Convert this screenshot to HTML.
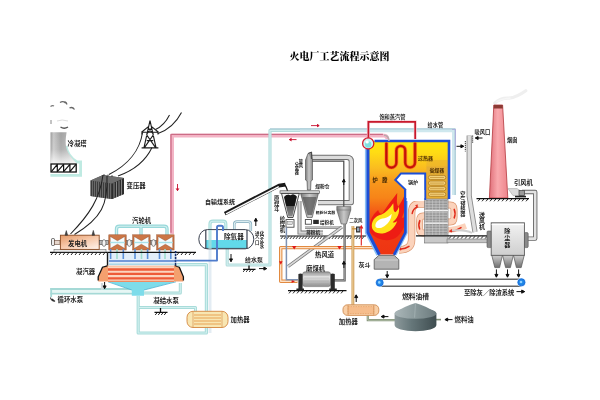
<!DOCTYPE html>
<html lang="zh-CN">
<head>
<meta charset="utf-8">
<title>火电厂工艺流程示意图</title>
<style>
html,body{margin:0;padding:0;background:#fff;}
body{width:600px;height:400px;overflow:hidden;}
svg{display:block;}
.t{font-family:"Liberation Sans","Noto Sans CJK SC",sans-serif;font-size:6.4px;fill:#1c1c1c;font-weight:700;}
.s{font-family:"Liberation Sans","Noto Sans CJK SC",sans-serif;font-size:5px;fill:#222;font-weight:700;}
.v{writing-mode:vertical-rl;text-orientation:upright;}
.title{font-family:"Liberation Serif","Noto Serif CJK SC",serif;font-weight:900;font-size:10px;fill:#000;}
.pk{fill:none;stroke:#f3b4c5;stroke-width:3.8;stroke-linejoin:round;}
.pki{fill:none;stroke:#cc6c86;stroke-width:1.3;stroke-linejoin:round;transform:translate(-1.1px,-1.2px);}
.cy{fill:none;stroke:#98d8da;stroke-width:3.4;stroke-linejoin:round;}
.cyi{fill:none;stroke:#d2f0f0;stroke-width:1.1;stroke-linejoin:round;}
.fw{fill:none;stroke:#d4e9f2;stroke-width:3.6;stroke-linejoin:round;}
.fwi{fill:none;stroke:#9cc4d2;stroke-width:1.1;stroke-linejoin:round;transform:translate(1.2px,-1.2px);}
.og{fill:none;stroke:#e28a40;stroke-width:3.4;stroke-linejoin:round;}
.ogi{fill:none;stroke:#fde0c4;stroke-width:1.4;stroke-linejoin:round;}
.gy{fill:none;stroke:#7d7d7d;stroke-width:3.6;stroke-linejoin:round;}
.gyi{fill:none;stroke:#e4e4e4;stroke-width:1.8;stroke-linejoin:round;}
.bl{fill:none;stroke:#4f7ccc;stroke-width:1.9;stroke-linejoin:round;}
.ln{fill:none;stroke:#222;stroke-width:1.05;}
.gr{fill:none;stroke:#111;stroke-width:1.2;}
.ht{fill:none;stroke:#111;stroke-width:0.9;}
.ar{fill:#111;stroke:#111;stroke-width:1;stroke-linejoin:miter;}
.arr{fill:#c8102e;stroke:#c8102e;stroke-width:0.9;}
</style>
</head>
<body>
<svg width="600" height="400" viewBox="0 0 600 400">
<defs>
<filter id="soft" x="0" y="0" width="600" height="400" filterUnits="userSpaceOnUse" color-interpolation-filters="sRGB"><feGaussianBlur stdDeviation="0.45"/></filter>
<linearGradient id="gTower" x1="0" y1="0" x2="1" y2="0">
<stop offset="0" stop-color="#9a9a9a"/><stop offset="0.12" stop-color="#c6c6c6"/><stop offset="0.4" stop-color="#a2a2a2"/><stop offset="0.7" stop-color="#b4b4b4"/><stop offset="1" stop-color="#dcdcdc"/>
</linearGradient>
<linearGradient id="gTowerV" x1="0" y1="0" x2="0" y2="1"><stop offset="0" stop-color="#fff" stop-opacity="0"/><stop offset="0.55" stop-color="#fff" stop-opacity="0.15"/><stop offset="1" stop-color="#fff" stop-opacity="0.8"/></linearGradient>
<linearGradient id="gGen" x1="0" y1="0" x2="0.8" y2="1">
<stop offset="0" stop-color="#e59a68"/><stop offset="0.5" stop-color="#f6c6a6"/><stop offset="1" stop-color="#fdeee4"/>
</linearGradient>
<linearGradient id="gBoiler" x1="0" y1="0" x2="0" y2="1">
<stop offset="0" stop-color="#ffe808"/><stop offset="0.1" stop-color="#ffdc14"/><stop offset="0.24" stop-color="#fabc20"/><stop offset="0.36" stop-color="#f8981c"/><stop offset="0.5" stop-color="#f78418"/><stop offset="0.62" stop-color="#f45c16"/><stop offset="0.76" stop-color="#f03c14"/><stop offset="1" stop-color="#ee3412"/>
</linearGradient>
<linearGradient id="gTank" x1="0" y1="0" x2="1" y2="0">
<stop offset="0" stop-color="#8d9a9c"/><stop offset="0.4" stop-color="#66777a"/><stop offset="1" stop-color="#3f4d50"/>
</linearGradient>
<linearGradient id="gTankTop" x1="0" y1="0" x2="1" y2="0">
<stop offset="0" stop-color="#aab6b8"/><stop offset="0.5" stop-color="#8a999b"/><stop offset="1" stop-color="#6c7b7e"/>
</linearGradient>
<linearGradient id="gMill" x1="0" y1="0" x2="0" y2="1">
<stop offset="0" stop-color="#8c8c8c"/><stop offset="0.35" stop-color="#e8e8e8"/><stop offset="1" stop-color="#8f8f8f"/>
</linearGradient>
<linearGradient id="gChim" x1="0" y1="0" x2="1" y2="0">
<stop offset="0" stop-color="#e0707a"/><stop offset="0.45" stop-color="#f9a9ad"/><stop offset="1" stop-color="#ee858c"/>
</linearGradient>
<linearGradient id="gDust" x1="0" y1="0" x2="0" y2="1">
<stop offset="0" stop-color="#f2f2f2"/><stop offset="1" stop-color="#cfcfcf"/>
</linearGradient>
<linearGradient id="gHop" x1="0" y1="0" x2="0" y2="1">
<stop offset="0" stop-color="#d0d0d0"/><stop offset="1" stop-color="#6e6e6e"/>
</linearGradient>
<linearGradient id="gCone" x1="0" y1="0" x2="1" y2="0">
<stop offset="0" stop-color="#7a7a7a"/><stop offset="0.5" stop-color="#c8c8c8"/><stop offset="1" stop-color="#8a8a8a"/>
</linearGradient>
<linearGradient id="gCoal" x1="0" y1="0" x2="0" y2="1">
<stop offset="0" stop-color="#2a2a2a"/><stop offset="1" stop-color="#8a8a8a"/>
</linearGradient>
<pattern id="pStripe" width="2" height="4" patternUnits="userSpaceOnUse">
<rect width="2" height="4" fill="#3c3c3c"/><rect width="1" height="4" fill="#6a6a6a"/>
</pattern>
<pattern id="pFine" width="4" height="1.6" patternUnits="userSpaceOnUse">
<rect width="4" height="1.6" fill="#b9b9b9"/><rect width="4" height="0.7" fill="#8a8a8a"/>
</pattern>
</defs>
<rect width="600" height="400" fill="#fff"/>
<g filter="url(#soft)">
<rect width="600" height="400" fill="#fff"/>
<text class="title" x="289.5" y="60.2">火电厂工艺流程示意图</text>
<!-- ===== cooling tower ===== -->
<g>
<path d="M66,146 C67,153 70,158 77,162 H80.6 V175.4 H50.4" fill="none" stroke="#bfeae2" stroke-width="2.8"/>
<path d="M50.5,132.2 H66.6 C64.4,146 65.6,152 76.4,163.2 H50.5 Z" fill="url(#gTower)"/>
<path d="M50.5,132.2 H66.6 C64.4,146 65.6,152 76.4,163.2 H50.5 Z" fill="url(#gTowerV)"/>
<rect x="51" y="164" width="25.2" height="8" fill="#fff" stroke="#111" stroke-width="1.3"/>
<path d="M51.4,171.6 L57.3,164.4 M57.3,171.6 L63.6,164.4 M63.6,171.6 L69.9,164.4 M69.9,171.6 L76,164.4 M57.3,164V172 M63.6,164V172 M69.9,164V172" stroke="#111" stroke-width="1.2" fill="none"/>
<path d="M60,102.5 q3,-2 5.5,0.5 M63,102 q3,-1 4,2.5" stroke="#666" stroke-width="1.2" fill="none"/>
<path d="M69.5,108 q3,-1.5 5,1.5" stroke="#666" stroke-width="1.3" fill="none"/>
<path d="M50.5,106.5 q2,-1.5 3.5,-0.5" stroke="#777" stroke-width="1.2" fill="none"/>
<path d="M51,120 v4" stroke="#888" stroke-width="1" fill="none"/>
<path d="M60.5,127 q3.5,2.5 7.5,0" stroke="#555" stroke-width="1.3" fill="none"/>
<path d="M57,121 q5,-2 11,0" stroke="#ddd" stroke-width="1" fill="none"/>
<text class="t" x="67.5" y="145.6">冷凝塔</text>
</g>
<!-- ===== power lines / pylon / transformer ===== -->
<g>
<path class="ln" d="M169.5,115 C166,122 161,127 155.5,129.5"/>
<path class="ln" d="M181.5,112.5 C176,123 168,130 158,133.5"/>
<path class="ln" d="M142.5,132.5 C140,150 128,165 109,174.5"/>
<path class="ln" d="M152,147.5 C146,160 135,170 118,176"/>
<!-- pylon -->
<path d="M150,120.5 L144,147.6 M150,120.5 L156,147.6 M141.5,132.2 H158.5 M141.6,147.9 H158.4 M146.4,134.5 L155.4,147.4 M153.6,134.5 L144.6,147.4 M147.8,127.5 L153.4,134 M152.2,127.5 L146.6,134 M146.8,140.6 H153.2 M141.5,132.2 L148.4,126.6 M158.5,132.2 L151.6,126.6 M142,132 v2.4 M158,132 v2.4" stroke="#1c1c1c" stroke-width="1.15" fill="none"/>
<!-- transformer -->
<path d="M90.5,180.5 L103,175 L124,178 L124,194 L112,199 L90.5,196 Z" fill="#4a4a4a"/>
<path d="M90.5,180.5 L112,183.5 L112,199 L90.5,196 Z" fill="url(#pStripe)"/>
<path d="M112,183.5 L124,178 L124,194 L112,199 Z" fill="#2d2d2d"/>
<path d="M114,182.8 V198 M116.5,181.6 V197 M119,180.5 V196 M121.5,179.3 V195" stroke="#999" stroke-width="0.8"/>
<path d="M90.5,180.5 L103,175 L124,178 L112,183.5 Z" fill="#6d6d6d"/>
<path d="M104,176 v-2 M108,176.5 v-2 M112,177 v-2" stroke="#333" stroke-width="0.8"/>
<text class="t" x="126.5" y="188.3">变压器</text>
<path class="ln" d="M103,175 C100,198 90,214 70.5,234"/>
<path class="ln" d="M107,176 C108,204 102,218 74.5,234.5"/>
</g>
<!-- ===== generator & turbines ===== -->
<g>
<!-- ground -->
<path class="gr" d="M50,252.3 H108 M175,252.3 H196"/>
<path class="ht" d="M53,252.5 l-2,2.5 M57,252.5 l-2,2.5 M61,252.5 l-2,2.5 M65,252.5 l-2,2.5 M69,252.5 l-2,2.5 M73,252.5 l-2,2.5 M77,252.5 l-2,2.5 M81,252.5 l-2,2.5 M85,252.5 l-2,2.5 M89,252.5 l-2,2.5 M93,252.5 l-2,2.5 M97,252.5 l-2,2.5 M101,252.5 l-2,2.5 M105,252.5 l-2,2.5 M179,252.5 l-2,2.5 M183,252.5 l-2,2.5 M187,252.5 l-2,2.5 M191,252.5 l-2,2.5 M195,252.5 l-2,2.5"/>
<rect x="54" y="249.6" width="52" height="2.4" fill="#e8e8e8" stroke="#555" stroke-width="0.5"/>
<!-- shaft left -->
<rect x="51.5" y="238.5" width="3" height="7" rx="1" fill="#eee" stroke="#333" stroke-width="0.7"/>
<rect x="54.5" y="240.3" width="5.5" height="4" fill="#e6d6cc" stroke="#6a4a3a" stroke-width="0.6"/>
<rect x="60.4" y="235.2" width="38.8" height="14.2" fill="url(#gGen)" stroke="#8a4a22" stroke-width="0.9"/>
<path d="M65,235.2 l1.3,-4.6 l1.3,4.6 Z M92,235.2 l1.3,-4.8 l1.3,4.8 Z" fill="#444" stroke="#333" stroke-width="0.6"/>
<text class="t" x="68" y="246">发电机</text>
<!-- couplings -->
<g fill="#f4f4f4" stroke="#444" stroke-width="0.6">
<rect x="99.5" y="240.5" width="9" height="4" fill="#b9b9b9"/>
<ellipse cx="104" cy="243" rx="2" ry="3.4"/>
<rect x="126" y="240.5" width="6.5" height="4" fill="#b9b9b9"/>
<ellipse cx="129.3" cy="243" rx="2" ry="3.4"/>
<rect x="150.5" y="240.5" width="6" height="4" fill="#b9b9b9"/>
<ellipse cx="153.5" cy="243" rx="2" ry="3.4"/>
</g>
</g>
<!-- ===== steam pipe (pink) ===== -->
<g>
<path class="pk" d="M172.1,234 V135.6 H384 Q387,135.6 387.5,139"/>
<path class="pki" d="M172.1,234 V135.6 H384"/>
<path class="arr" d="M177.5,184 v6.5 m-1.3,-2 l1.3,2.2 l1.3,-2.2"/>
<path class="arr" d="M296.5,139.6 h-7 m2,-1.3 l-2.2,1.3 l2.2,1.3"/>
</g>
<!-- ===== turbines ===== -->
<g>
<text class="t" x="132" y="222.6">汽轮机</text>
<path class="cy" d="M116.5,235 V229 Q116.5,226.3 119.5,226.3 H164 Q167,226.3 167,229 V235 M141,226.3 V235"/>
<path class="cyi" d="M116.5,235 V229 Q116.5,226.3 119.5,226.3 H164 Q167,226.3 167,229 V235 M141,226.3 V235"/>
<g id="turb">
<rect x="108.8" y="234.8" width="17.4" height="15.2" fill="#cc7646" stroke="#9a5430" stroke-width="0.5"/>
<path d="M110.2,236.4 L117.5,240.8 L124.8,236.4 V248.6 L117.5,244.2 L110.2,248.6 Z" fill="#f6fcfd" stroke="#8a4a28" stroke-width="0.4"/>
<path d="M110.2,242.5 H124.8" stroke="#a8e2ea" stroke-width="1.4"/>
</g>
<use href="#turb" x="23.9"/>
<use href="#turb" x="47.9"/>
<!-- exhaust box -->
<rect x="107.5" y="252.6" width="68.5" height="13" fill="#e3eef9"/>
<path d="M109,261 H176" stroke="#4f7ccc" stroke-width="1.6" fill="none"/>
<path d="M109,264.3 H176" stroke="#a9d7e6" stroke-width="1.6" fill="none"/>
<g stroke="#5b8fd8" stroke-width="1.6" fill="none">
<path d="M110.6,249 V259 M123.3,249 V259 M135,249 V259 M147.6,249 V259 M159.5,249 V259 M170.8,249 V259"/>
</g>
<g stroke="#9fdccf" stroke-width="1.6" fill="none">
<path d="M117,249 V259 M141.5,249 V259 M165,249 V259"/>
</g>
<path d="M107.5,252.6 V265.8" stroke="#1a1a1a" stroke-width="1.4" fill="none"/>
<path d="M175.6,251 V265.5" stroke="#14306e" stroke-width="1.6" stroke-dasharray="2.2 0.8" fill="none"/>
<path class="gr" d="M108,252.3 H175" stroke-width="0.8"/>
</g>
<!-- ===== condenser ===== -->
<g>
<!-- circulating water pipes -->
<path d="M50.3,289 H134 M50.3,293.6 H134" stroke="#a5d9d6" stroke-width="2" fill="none"/>
<path d="M50.3,291.3 H134" stroke="#e6f6f4" stroke-width="2.6" fill="none"/>
<path d="M51.2,288 V297" stroke="#a5d9d6" stroke-width="1.8" fill="none"/>
<path d="M143,293 H180.3 V283" class="cy" style="stroke-width:3;stroke:#a5d9d6"/>
<path d="M143,293 H180.3 V283" class="cyi"/>
<path d="M102,283 V290" stroke="#cfd8dc" stroke-width="2.2" fill="none"/>
<!-- hotwell funnel -->
<path d="M108,281.5 H176 L144,290 V295.8 H131.8 V290 Z" fill="#7ddcea"/>
<path d="M108,281.8 L131.8,290 M176,281.8 L144,290" stroke="#4fb3d0" stroke-width="0.8" fill="none"/>
<!-- body -->
<path d="M106.5,265.8 H175.5 L180,267.5 L183.3,277 V281.6 H98.2 V277 L102.5,267.5 Z" fill="#f4a06e"/>
<rect x="108" y="266.3" width="66" height="15.3" fill="#fbd4bd"/>
<g stroke="#ee5a36" stroke-width="2.3" fill="none">
<path d="M108,269.5 H174 M108,273.9 H174 M108,278.3 H174"/>
</g>
<path d="M108,281.3 H174" stroke="#f07a4a" stroke-width="1" fill="none"/>
<path d="M107.3,265.8 L102.5,267.2 L98.2,276.8 V280.5" stroke="#111" stroke-width="1.3" fill="none"/>
<path d="M174.7,265.5 L179.3,267.2 L183.4,276.8 V280.5" stroke="#111" stroke-width="1.3" fill="none"/>
<text class="t" x="76" y="274.3">凝汽器</text>
<path class="ar" d="M104.6,282 v6.3 m-1.5,-2.4 l1.5,2.8 l1.5,-2.8 z"/>
<!-- pump icon + label -->
<path d="M50.5,297.5 q0.5,3.5 4.5,3.8 M52,299 l3,2.5" stroke="#333" stroke-width="1.1" fill="none"/>
<text class="t" x="57.5" y="302.3">循环水泵</text>
<!-- condensate pipes -->
<path d="M210,249 V333" fill="none" stroke="#e3ecf3" stroke-width="3"/>
<path class="cy" d="M138.2,296 V333 H206.4 V264.6 H177" style="stroke:#a9dcda;stroke-width:3.2"/>
<path class="cyi" d="M138.2,296 V333 H206.4 V264.6 H177"/>
<path class="cy" d="M139,307.5 H195.5 V312" style="stroke:#a9dcda;stroke-width:3"/>
<path class="cyi" d="M139,307.5 H195.5 V312"/>
<text class="t" x="153.3" y="303.2">凝结水泵</text>
<path d="M160.5,308 v4 M154.5,312.4 H167.5" stroke="#111" stroke-width="1.3" fill="none"/>
<path class="ht" d="M157,312.8 l-1.8,2.2 M160,312.8 l-1.8,2.2 M163,312.8 l-1.8,2.2 M166,312.8 l-1.8,2.2"/>
<!-- heater (left) -->
<rect x="187" y="311.3" width="41" height="16.2" rx="6" fill="#f8e6b2" stroke="#d4873f" stroke-width="0.9"/>
<path d="M193,311.5 V327.3 M222,311.5 V327.3" stroke="#d4873f" stroke-width="0.6" fill="none"/>
<g stroke="#e8a255" stroke-width="1.1" fill="none">
<path d="M194,315 H221 M194,318 H221 M194,321 H221 M194,324 H221"/>
</g>
<text class="t" x="230.5" y="321.6">加热器</text>
</g>
<!-- ===== feed water pipe (light blue/cyan) ===== -->
<g>
<path class="cy" d="M227.2,249 V265 H270 V130.4 H330" style="stroke:#b4dcdc;stroke-width:3.2"/>
<path class="cyi" d="M227.2,249 V265 H270 V130.4 H330"/>
<path d="M300,130.4 H453.8 V195" fill="none" stroke="#cfe8ee" stroke-width="3.6"/>
<path d="M270,128.9 H455 M455.2,128.6 V195" fill="none" stroke="#9fc3cf" stroke-width="1"/>
<path d="M452,129.5 H455.4 V150" fill="none" stroke="#aeb0dc" stroke-width="1.1"/>
<path class="arr" d="M311,125.6 h8 m-2,-1.3 l2.2,1.3 l-2.2,1.3"/>
</g>
<!-- ===== deaerator ===== -->
<g>
<path class="cy" d="M210,231 V224 Q210,221.2 213,221.2 H223 Q225.8,221.2 225.8,224 V231" style="stroke:#a9dcda;stroke-width:3.2"/>
<path class="cyi" d="M210,231 V224 Q210,221.2 213,221.2 H223 Q225.8,221.2 225.8,224 V231"/>
<path d="M234.3,231 V224 Q234.3,221.6 237,221.6 H248 Q250.8,221.6 250.8,224 V231" fill="none" stroke="#8fb4c4" stroke-width="2.6"/>
<path d="M234.3,231 V224 Q234.3,221.6 237,221.6 H248 Q250.8,221.6 250.8,224 V231" fill="none" stroke="#e4f3f6" stroke-width="1"/>
<rect x="198.8" y="229.6" width="55" height="19.2" rx="8.5" ry="9.6" fill="#fff" stroke="#3b4250" stroke-width="1"/>
<path d="M205.8,240 H247 V248.2 H205.8 Z" fill="#62d9ea"/>
<path d="M205.8,230 V248.5 M247,230 V248.5" stroke="#3b4250" stroke-width="1.2" fill="none"/>
<path d="M205.8,248.4 H247" stroke="#3b4250" stroke-width="0.8"/>
<path class="cy" d="M210,230 V249" style="stroke:#a9dcda;stroke-width:3.2;opacity:.75"/>
<path class="bl" d="M175.5,260.6 H217 V227.5 Q217,225.8 218.6,225.8 H221.4 Q223,225.8 223,227.5 V231"/>
<text class="t" x="224" y="238.6" style="font-size:6.6px">除氧器</text>
<path class="ar" d="M255.8,226 v-7.5 m-1.5,2.6 l1.5,-2.8 l1.5,2.8 z"/>
<text class="s" text-anchor="middle" style="font-size:4.4px"><tspan x="262.0" y="234.9">化</tspan><tspan x="262.0" y="239.3">学</tspan><tspan x="262.0" y="243.7">补</tspan><tspan x="262.0" y="248.1">水</tspan></text>
<text class="s" text-anchor="middle" style="font-size:4.4px"><tspan x="257.3" y="234.9">进</tspan><tspan x="257.3" y="239.3">入</tspan><tspan x="257.3" y="243.7">口</tspan></text>
<path class="ar" d="M231,254 v7.5 m-1.5,-2.6 l1.5,2.8 l1.5,-2.8 z"/>
<text class="t" x="245" y="261.8" style="font-size:6px">给水泵</text>
<path d="M249,265.5 v3.5 M243,269.3 H255.5" stroke="#111" stroke-width="1.3" fill="none"/>
<path class="ht" d="M245,269.5 l-1.8,2.4 M248,269.5 l-1.8,2.4 M251,269.5 l-1.8,2.4 M254,269.5 l-1.8,2.4"/>
<path class="ar" d="M259,268.6 h7.5 m-2.6,-1.5 l2.8,1.5 l-2.8,1.5 z"/>
</g>
<!-- ===== coal conveyor ===== -->
<g>
<text class="t" x="205" y="203.8" style="font-size:6px">自输煤系统</text>
<path d="M224.8,213.6 L279,185.6 L285.4,184.6" stroke="#1a1a1a" stroke-width="3.8" fill="none" stroke-linejoin="round"/>
<path d="M226,213.9 L278.8,186.6" stroke="#fafafa" stroke-width="1.5" fill="none"/>
<path d="M284.6,184.6 q2.6,3 3.6,10" stroke="#111" stroke-width="1.3" fill="none"/>
</g>
<!-- ===== coal bunkers / separators ===== -->
<g>
<!-- thick duct loop -->
<path d="M311,157.4 H347 Q351.3,157.4 351.3,161.5 V202.6 H318" fill="none" stroke="#6f6f6f" stroke-width="5.2" stroke-linejoin="round"/>
<path d="M311,157.4 H347 Q351.3,157.4 351.3,161.5 V202.6 H318" fill="none" stroke="#dcdcdc" stroke-width="3.4" stroke-linejoin="round"/>
<path d="M312,161.2 H343.8 V207" fill="none" stroke="#4a4a4a" stroke-width="1.2"/>
<path class="ar" d="M343.8,185 v-5.5 m-1.4,2.4 l1.4,-2.7 l1.4,2.7 z"/>
<!-- coarse separator cyclone -->
<path d="M305.5,160 L308,153.5 L311.6,152 L312.5,160 V180 L311,181 L310.6,190 H307.4 L307,181 L305.5,180 Z" fill="url(#gCone)" stroke="#444" stroke-width="0.6"/>
<path d="M308.2,153.5 L311.4,152.2 V159" stroke="#333" stroke-width="0.8" fill="#999"/>
<text class="s" text-anchor="middle" style="font-size:4.2px"><tspan x="300.9" y="163.2">旋</tspan><tspan x="300.9" y="167.2">风</tspan></text>
<text class="s" text-anchor="middle" style="font-size:4.2px"><tspan x="296.8" y="165.6">分</tspan><tspan x="296.8" y="169.6">离</tspan><tspan x="296.8" y="173.6">器</tspan></text>
<text class="s" x="315.2" y="188.2" style="font-size:4.8px">煤粉仓</text>
<!-- bunker rim -->
<rect x="280" y="190.8" width="39.5" height="2.6" fill="#d8d8d8" stroke="#444" stroke-width="0.6"/>
<path d="M281.5,193.4 H299.3 L293,217.5 H287.8 Z" fill="#f2f2f2" stroke="#222" stroke-width="0.8"/>
<path d="M284,197 q3,-3.6 6.4,-1.6 q3.4,-2.4 6.4,1.2 L292.4,216.5 H288.4 Z" fill="url(#gCoal)"/>
<path d="M284.4,197 q3,-3.6 6.2,-1.6 q3.2,-2.4 6,1.4 L294.6,206 H286.2 Z" fill="#151515"/>
<path d="M300.6,193.4 H318.4 L312.2,217.5 H307 Z" fill="url(#gCone)" stroke="#444" stroke-width="0.6"/>
<path d="M302.5,197 H316.5 L312,215 H307.5 Z" fill="#5a5a5a" opacity="0.75"/>
<text class="s" text-anchor="middle" style="font-size:5.4px"><tspan x="276.6" y="200.4">原</tspan><tspan x="276.6" y="205.8">煤</tspan><tspan x="276.6" y="211.2">斗</tspan></text>
<text class="s" text-anchor="middle" style="font-size:5.4px"><tspan x="282.4" y="220.8">给</tspan><tspan x="282.4" y="226.2">煤</tspan><tspan x="282.4" y="231.6">机</tspan></text>
<!-- feeders -->
<rect x="286" y="219.6" width="8" height="7.6" fill="#fff" stroke="#333" stroke-width="0.8"/>
<rect x="287.8" y="221.5" width="4.4" height="3" fill="#ddd" stroke="#555" stroke-width="0.4"/>
<rect x="305.3" y="219.6" width="6.2" height="4.6" fill="#fff" stroke="#333" stroke-width="0.8"/>
<rect x="313.2" y="219.8" width="5.6" height="4.2" fill="#2a2a2a"/>
<text class="s" x="320" y="224.2" style="font-size:4.6px">给粉机</text>
<text class="s" x="315.8" y="214.2" style="font-size:3.9px">粗粉分离器</text>
<!-- gray ducts -->
<path d="M299.5,201 V232.6 H323" fill="none" stroke="#777" stroke-width="4"/>
<path d="M299.5,201 V232.6 H323" fill="none" stroke="#d5d5d5" stroke-width="2.2"/>
<path d="M305,227.8 H342" fill="none" stroke="#777" stroke-width="2.4"/>
<path d="M305,227.8 H342" fill="none" stroke="#ddd" stroke-width="1"/>
<text class="s" x="306.2" y="234.4" style="font-size:4.6px">排粉机</text>
<!-- fine separator -->
<path d="M336.8,206.4 H350.8 V210 L346.4,224 H341.2 L336.8,210 Z" fill="url(#gCone)" stroke="#555" stroke-width="0.6"/>
<path d="M336.8,210 H350.8" stroke="#666" stroke-width="0.5"/>
<text class="s" x="349.2" y="222.2" style="font-size:4.4px">二次风</text>
<!-- ground -->
<path class="gr" d="M280,236 H366"/>
<path class="ht" d="M283,236.3 l-2,2.6 M286,236.3 l-2,2.6 M289,236.3 l-2,2.6 M292,236.3 l-2,2.6 M295,236.3 l-2,2.6 M298,236.3 l-2,2.6 M301,236.3 l-2,2.6 M304,236.3 l-2,2.6 M307,236.3 l-2,2.6 M310,236.3 l-2,2.6 M313,236.3 l-2,2.6 M316,236.3 l-2,2.6 M319,236.3 l-2,2.6 M322,236.3 l-2,2.6 M325,236.3 l-2,2.6 M328,236.3 l-2,2.6 M331,236.3 l-2,2.6 M334,236.3 l-2,2.6 M337,236.3 l-2,2.6 M340,236.3 l-2,2.6 M343,236.3 l-2,2.6 M346,236.3 l-2,2.6 M349,236.3 l-2,2.6 M352,236.3 l-2,2.6 M355,236.3 l-2,2.6 M358,236.3 l-2,2.6 M361,236.3 l-2,2.6 M364,236.3 l-2,2.6" stroke-width="0.8"/>
<!-- diagonal duct -->
<path d="M342,227 L288,266.5" stroke="#777" stroke-width="3.2" fill="none"/>
<path d="M342,227 L288,266.5" stroke="#d8d8d8" stroke-width="1.6" fill="none"/>
<!-- hot air duct (orange) -->
<path class="og" d="M377,247.6 H280.7 V281.3 H297.5"/>
<path class="ogi" d="M377,247.6 H280.7 V281.3 H297.5"/>
<path d="M292,246 h4.4 l-2.2,3.4 Z M337.3,246 h4.4 l-2.2,3.4 Z M279,261.3 h3.6 l-1.8,3.4 Z M291.6,279.5 l3.4,1.8 l-3.4,1.8 Z" fill="#e01818"/>
<!-- blue feed pipe to mill -->
<path d="M286.4,227.4 V279.8 H298" fill="none" stroke="#7f93b4" stroke-width="1.5"/>
<!-- pipe from fine separator to mill -->
<path d="M344.6,224 V280.4 H334" fill="none" stroke="#555" stroke-width="2.2"/>
<path d="M344.6,224 V280.4 H334" fill="none" stroke="#aaa" stroke-width="0.8"/>
<path class="ar" d="M343.9,268 v-6.5 m-1.5,2.6 l1.5,-2.8 l1.5,2.8 z"/>
<text class="t" x="315" y="257.2" style="font-size:6.4px">热风道</text>
<text class="t" x="306" y="270.9" style="font-size:6.4px">磨煤机</text>
<!-- coal mill -->
<rect x="302.6" y="271.8" width="28" height="14.8" rx="2.5" fill="url(#gMill)" stroke="#777" stroke-width="0.6"/>
<path d="M304,275 H329 M304,278 H329 M304,281 H329 M304,284 H329" stroke="#9a9a9a" stroke-width="0.4"/>
<path d="M298.4,274 Q300.5,272.8 302.6,274 V288.4 H304 V290.4 H296.4 V288.4 H298.4 Z" fill="#2b2b2b"/>
<path d="M330.6,274 Q332.7,272.8 334.8,274 V288.4 H336.8 V290.4 H329.2 V288.4 H330.6 Z" fill="#2b2b2b"/>
<path class="gr" d="M288,290.7 H346.5"/>
<path class="ht" d="M291,291 l-2,2.4 M295,291 l-2,2.4 M299,291 l-2,2.4 M303,291 l-2,2.4 M307,291 l-2,2.4 M311,291 l-2,2.4 M315,291 l-2,2.4 M319,291 l-2,2.4 M323,291 l-2,2.4 M327,291 l-2,2.4 M331,291 l-2,2.4 M335,291 l-2,2.4 M339,291 l-2,2.4 M343,291 l-2,2.4"/>
<!-- tan oil pipe -->
<path d="M352.9,226 V306" fill="none" stroke="#c9954a" stroke-width="2.8"/>
<path d="M352.9,226 V306" fill="none" stroke="#f5dcae" stroke-width="1"/>
<path d="M352,228.8 H358" stroke="#c9954a" stroke-width="1.4" fill="none"/>
<rect x="356" y="226.5" width="4.4" height="6" fill="#333"/>
<rect x="357" y="227.6" width="2.4" height="3.6" fill="#9ab"/>
<path d="M361.3,245.5 V226 m-1.5,2.6 l1.5,-2.8 l1.5,2.8" stroke="#e02020" stroke-width="1.1" fill="none"/>
<path class="ar" d="M356.2,302 v-7 m-1.5,2.6 l1.5,-2.8 l1.5,2.8 z"/>
</g>
<!-- ===== boiler ===== -->
<g>
<!-- salmon ducts behind -->
<path d="M424.5,204 H419 Q411.6,204 411.6,213 V240 Q411.6,249.6 399,250" fill="none" stroke="#dc966e" stroke-width="7.4"/>
<path d="M424.5,204 H419 Q411.6,204 411.6,213 V240 Q411.6,249.6 399,250" fill="none" stroke="#fbd3bc" stroke-width="6"/>
<path d="M425,216 H423 Q419.6,216 419.6,221 V228 Q419.6,233 423,233 H425" fill="none" stroke="#dc966e" stroke-width="7"/>
<path d="M425,216 H423 Q419.6,216 419.6,221 V228 Q419.6,233 423,233 H425" fill="none" stroke="#fbd3bc" stroke-width="5.6"/>
<path d="M447,205 H450 Q454,205 454,209.5 V217.5 Q454,222 450,222 H447" fill="none" stroke="#dc966e" stroke-width="7"/>
<path d="M447,205 H450 Q454,205 454,209.5 V217.5 Q454,222 450,222 H447" fill="none" stroke="#fbd3bc" stroke-width="5.6"/>
<path d="M447.5,230 Q456,229.6 466,226" fill="none" stroke="#fbd3bc" stroke-width="6"/>
<g fill="none" stroke="#e02a1a" stroke-width="1.5" stroke-linecap="round">
<path d="M412.2,213.5 q0.8,-5 5.4,-6.6"/>
<path d="M419.6,229 q-1.6,-4 0.2,-8.4"/>
<path d="M409,246.4 q-4,2.8 -8.5,2.6"/>
<path d="M454.2,209.4 q1.8,4 0,8.5"/>
<path d="M451,231.4 q5,-0.3 10,-3.8"/>
</g>
<path d="M415.6,205.4 l2,-0.6 l-0.8,2.2 Z M400.8,247.6 l-2.2,1.4 l2.4,1.2 Z M451.6,229.4 l-2.4,1.8 l2.8,0.8 Z" fill="#e02a1a" stroke="#e02a1a" stroke-width="0.6"/>
<!-- main shell fill -->
<path d="M367.5,141 H449 V198.5 H425.2 V173.4 H401 L395.3,180 L405.4,189.6 V232.5 L394.4,254.6 H378.6 L367.5,232.5 Z" fill="url(#gBoiler)"/>
<!-- lower furnace red -->

<!-- flames -->
<g transform="translate(386,220) scale(1.12) translate(-386,-223)">
<path d="M372,234 C370,226 373,219 379,214 C380,217 381,218 383,217 C386,212 390,207 396,199 C396,205 395,208 397,211 C399,208 401,205 402.5,201 C404,208 403,216 400,221 C402,221 403,220 404.5,218 C404.5,226 401,233 396,238 C390,243 378,242 372,234 Z" fill="#ee1c14"/>
<path d="M373.5,230 C372.5,224 376,219.5 382,218 C386,216.5 389,213 392.5,208 C393,212 392,215 394.5,216 C396,215 397,213 397.5,211 C398.5,217 396,222 392,225 C394,225.5 395,225 396,224 C394,230 389,234.5 383,235 C378,235.5 374.5,233.5 373.5,230 Z" fill="#ffe21a"/>
<path d="M376.5,228.5 C376.5,224.5 380,222 384.5,221.5 C387.5,221 389.5,219.5 391,217.5 C391,222 388.5,226 384.5,228.5 C381.5,230.5 377.5,231 376.5,228.5 Z" fill="#ffffff"/>
</g>
<!-- economizer -->
<rect x="426.4" y="166.4" width="21.8" height="32.4" fill="#e6ae34"/>
<path d="M426.4,160 H448.2 V166.6 H426.4 Z" fill="#e6ae34" opacity="0.5"/>
<g fill="none" stroke="#a8741c" stroke-width="0.7">
<rect x="428.4" y="175.4" width="17.4" height="4.2" rx="2.1" fill="#f2cf78"/>
<rect x="428.4" y="181" width="17.4" height="4.2" rx="2.1" fill="#f2cf78"/>
<rect x="428.4" y="186.6" width="17.4" height="4.2" rx="2.1" fill="#f2cf78"/>
<rect x="428.4" y="192.2" width="17.4" height="4.2" rx="2.1" fill="#f2cf78"/>
</g>
<g fill="none" stroke="#b98224" stroke-width="0.6">
<path d="M430,177.5 H444 M430,183.1 H444 M430,188.7 H444 M430,194.3 H444"/>
</g>
<!-- air preheater -->
<rect x="424.6" y="199" width="23.4" height="44" fill="#c9c9c9" stroke="#6a6a6a" stroke-width="0.6"/>
<rect x="425.6" y="200" width="21.4" height="9.8" fill="url(#pFine)"/>
<rect x="425.6" y="211.4" width="21.4" height="11" fill="url(#pFine)"/>
<rect x="425.6" y="224" width="21.4" height="11.4" fill="url(#pFine)"/>
<path d="M424.6,210.6 H448 M424.6,223.2 H448 M424.6,236 H448" stroke="#f4f4f4" stroke-width="1"/>
<g stroke="#dadada" stroke-width="0.4">
<path d="M429,200 V235 M432.5,200 V235 M436,200 V235 M439.5,200 V235 M443,200 V235"/>
</g>
<!-- blue walls -->
<path d="M374.5,141 H449 V199" fill="none" stroke="#1c4fd6" stroke-width="2.6" stroke-linejoin="miter"/>
<path d="M366.6,149 V232.8 L378,255" fill="none" stroke="#8cc0f4" stroke-width="3.4" stroke-linejoin="round"/>
<path d="M368,149 V232.5 L379.4,254.8" fill="none" stroke="#1c4fd6" stroke-width="3" stroke-linejoin="round"/>
<path d="M406.4,200 V232.8 L395.2,255" fill="none" stroke="#8cc0f4" stroke-width="2.6" stroke-linejoin="round"/>
<path d="M405.4,190 V232.5 L394,254.8" fill="none" stroke="#1c4fd6" stroke-width="2.6" stroke-linejoin="round"/>
<path d="M405.4,199 V189.6 L395.3,180 L401,173.4 H425.2 V199 Z" fill="#fff" stroke="#1c4fd6" stroke-width="2" stroke-linejoin="miter"/>
<rect x="406.6" y="190" width="17.6" height="11" fill="#fff"/>
<!-- superheater -->
<path d="M386.4,142.6 V162.6 A5,5 0 0 0 396.4,162.6 V150.4 A4.4,4.4 0 0 1 405.2,150.4 V162.6 A4.9,4.9 0 0 0 415,162.6 V142.6" fill="none" stroke="#fb9a1e" stroke-width="4.2" opacity="0.8"/>
<path d="M386.4,142.6 V162.6 A5,5 0 0 0 396.4,162.6 V150.4 A4.4,4.4 0 0 1 405.2,150.4 V162.6 A4.9,4.9 0 0 0 415,162.6 V142.6" fill="none" stroke="#e01c0e" stroke-width="2.7"/>
<path d="M386.4,142.6 V162.6 A5,5 0 0 0 396.4,162.6 V150.4 A4.4,4.4 0 0 1 405.2,150.4 V162.6 A4.9,4.9 0 0 0 415,162.6 V142.6" fill="none" stroke="#a81608" stroke-width="0.9"/>
<!-- saturated steam pipe -->
<path d="M368.4,138 V121.8 H415.2 V139" fill="none" stroke="#f6d0d6" stroke-width="3"/>
<path d="M368.4,138 V121.8 H415.2 V139" fill="none" stroke="#c8182c" stroke-width="1.7"/>
<!-- pink pipe end elbow -->
<path d="M384,135.3 Q388.4,135.3 389,141" fill="none" stroke="#b9a9ad" stroke-width="1.6"/>
<!-- drum -->
<circle cx="368.2" cy="143.4" r="5.6" fill="#c8f3f3" stroke="#d61a2e" stroke-width="1.3"/>
<circle cx="368.2" cy="144.4" r="3.2" fill="#7fe0e0"/>
<circle cx="367.2" cy="142" r="1.6" fill="#fff"/>
<!-- ash hopper -->
<path d="M378.8,255.4 H394.2 L398.8,259.6 V269.2 H374.2 V259.6 Z" fill="#b4b4b4" stroke="#555" stroke-width="0.8"/>
<path d="M375,260 H398" stroke="#d8d8d8" stroke-width="0.8"/>
<!-- labels -->
<text class="s" x="379.4" y="119" style="font-size:5.2px">饱和蒸汽管</text>
<text class="s" x="427.6" y="127" style="font-size:5.2px">给水管</text>
<text class="s" x="418" y="159.8" style="font-size:5px;fill:#4a2a00">过热器</text>
<text class="s" x="429.4" y="172" style="font-size:4.9px;fill:#4a2a00">省煤器</text>
<text class="s" x="372.5" y="182" style="font-size:5.2px;fill:#3a2000;letter-spacing:4.6px">炉膛</text>
<text class="s" x="408" y="184" style="font-size:5px">锅炉</text>
<text class="t" x="358.4" y="267.2" style="font-size:6px">灰斗</text>
<path class="ar" d="M387.2,271 v6.5 m-1.5,-2.6 l1.5,2.8 l1.5,-2.8 z"/>
<!-- ground + preheater base -->
<path class="gr" d="M416,235.8 H490" stroke-width="1"/>
<path class="ht" d="M451,236.3 l-2,2.4 M455,236.3 l-2,2.4 M459,236.3 l-2,2.4 M463,236.3 l-2,2.4 M467,236.3 l-2,2.4 M471,236.3 l-2,2.4 M475,236.3 l-2,2.4 M479,236.3 l-2,2.4 M483,236.3 l-2,2.4 M487,236.3 l-2,2.4" stroke-width="0.8"/>
<rect x="447" y="239" width="41" height="3.8" fill="#c4c4c4" stroke="#777" stroke-width="0.6"/>
</g>
<!-- ===== air intake / FD fan duct ===== -->
<g>
<path d="M469.2,135.5 V196 L475,232" fill="none" stroke="#8c8c8c" stroke-width="5.2" stroke-linejoin="round"/>
<path d="M469.2,135.5 V196 L475,232" fill="none" stroke="#dedede" stroke-width="3.4" stroke-linejoin="round"/>
<path d="M472,233 Q466,229.5 452,230.5" fill="none" stroke="#d0d0d0" stroke-width="2"/>
<path d="M472.6,135.5 v8 M465.4,141 v10.5" stroke="#555" stroke-width="1.2" stroke-dasharray="1.2 0.8" fill="none"/>
<path class="ar" d="M482.5,138 h-7 m2.6,-1.5 l-2.8,1.5 l2.8,1.5 z"/>
<path class="ar" d="M456.5,146.3 h7 m-2.6,-1.5 l2.8,1.5 l-2.8,1.5 z"/>
<text class="s" x="474.5" y="134.2" style="font-size:5.3px">吸风口</text>
<text class="s" text-anchor="middle" style="font-size:5.2px"><tspan x="462.8" y="195.6">空</tspan><tspan x="462.8" y="200.8">气</tspan><tspan x="462.8" y="206.0">预</tspan><tspan x="462.8" y="211.2">热</tspan><tspan x="462.8" y="216.4">器</tspan></text>
<text class="t" text-anchor="middle" style="font-size:6px"><tspan x="482.0" y="217.3">送</tspan><tspan x="482.0" y="223.3">风</tspan><tspan x="482.0" y="229.3">机</tspan></text>
</g>
<!-- ===== chimney ===== -->
<g>
<path d="M494.8,103.2 q6,-5.5 14,-5 q8,-1 17,-7.5" fill="none" stroke="#efefef" stroke-width="3.2" stroke-linecap="round"/>
<path d="M497,101.6 q7,-3.6 13,-3.4" fill="none" stroke="#f6f6f6" stroke-width="1.6" stroke-linecap="round"/>
<path d="M493.8,105 H502.6 L507.8,198 H489.4 Z" fill="url(#gChim)" stroke="#b4383e" stroke-width="0.8"/>
<path d="M493.8,105 H502.6 L502.8,108.6 H493.6 Z" fill="#8c3a34"/>
<text class="s" x="507" y="142.4" style="font-size:5.2px">烟囱</text>
<path class="gr" d="M476.5,198.6 H529"/>
<path class="ht" d="M480,198.9 l-2,2.4 M484,198.9 l-2,2.4 M488,198.9 l-2,2.4 M492,198.9 l-2,2.4 M496,198.9 l-2,2.4 M500,198.9 l-2,2.4 M504,198.9 l-2,2.4 M508,198.9 l-2,2.4 M512,198.9 l-2,2.4 M516,198.9 l-2,2.4 M520,198.9 l-2,2.4 M524,198.9 l-2,2.4 M528,198.9 l-2,2.4" stroke-width="0.8"/>
</g>
<!-- ===== ID fan ===== -->
<g>
<text class="t" x="514" y="184.6" style="font-size:6.3px">引风机</text>
<path d="M522,192 H535.2 V238.6 H528" fill="none" stroke="#666" stroke-width="4.4" stroke-linejoin="round"/>
<path d="M522,192 H535.2 V238.6 H528" fill="none" stroke="#e2e2e2" stroke-width="2.6" stroke-linejoin="round"/>
<path d="M508,188.6 H517 L521,191 V195.6 H513 Z" fill="#dcdcdc" stroke="#999" stroke-width="0.5"/>
<rect x="519" y="190.4" width="5.6" height="5.2" fill="#9a9a9a" stroke="#444" stroke-width="0.7"/>
<path d="M515,196.6 H526" stroke="#222" stroke-width="1.6"/>
</g>
<!-- ===== dust collector ===== -->
<g>
<rect x="487" y="231" width="4.6" height="16.6" rx="1.2" fill="#8a8a8a" stroke="#555" stroke-width="0.6"/>
<rect x="524.2" y="232.6" width="4" height="15" rx="1.2" fill="#8a8a8a" stroke="#555" stroke-width="0.6"/>
<rect x="491.2" y="222.8" width="33.2" height="32.6" fill="url(#gDust)" stroke="#5a5a5a" stroke-width="0.9"/>
<path d="M491.6,224.6 H524" stroke="#fff" stroke-width="1"/>
<path d="M491.8,255.4 H502.4 L499.6,267.6 H494.8 Z M502.6,255.4 H513.3 L510.4,267.6 H505.6 Z M513.5,255.4 H524.2 L521.2,267.6 H516.4 Z" fill="url(#gHop)" stroke="#555" stroke-width="0.7"/>
<text class="t" text-anchor="middle" style="font-size:6.1px"><tspan x="507.2" y="233.4">除</tspan><tspan x="507.2" y="240.4">尘</tspan><tspan x="507.2" y="247.4">器</tspan></text>
<path class="ar" d="M496.4,269.4 v7.6 m-1.5,-2.6 l1.5,2.8 l1.5,-2.8 z M507.5,269.4 v7.6 m-1.5,-2.6 l1.5,2.8 l1.5,-2.8 z M518.6,269.4 v7.6 m-1.5,-2.6 l1.5,2.8 l1.5,-2.8 z"/>
</g>
<!-- ===== ash conveyor ===== -->
<g>
<path d="M380,279.2 H521 M380,286.2 H521" stroke="#666" stroke-width="1.5" fill="none"/>
<circle cx="379.7" cy="282.7" r="4.3" fill="#bfe0fb"/>
<circle cx="379.7" cy="282.7" r="3.4" fill="#1f86e6" stroke="#1766d8" stroke-width="0.8"/>
<circle cx="379.3" cy="282.4" r="1.3" fill="#8fd0ff"/>
<circle cx="521.4" cy="282.3" r="4.4" fill="#bfe0fb"/>
<circle cx="521.4" cy="282.3" r="3.5" fill="#1f86e6" stroke="#1766d8" stroke-width="0.8"/>
<circle cx="521" cy="282" r="1.3" fill="#8fd0ff"/>
<text class="t" x="464" y="294.5" style="font-size:6.3px">至除灰／除渣系统</text>
<path class="ar" d="M516.5,291.6 h8 m-2.8,-1.6 l3,1.6 l-3,1.6 z"/>
</g>
<!-- ===== oil heater & tank ===== -->
<g>
<path d="M367.8,315 V320.2 H396" fill="none" stroke="#7f8f74" stroke-width="2.2"/>
<path d="M367.8,315 V320.2 H396" fill="none" stroke="#c9d2bd" stroke-width="0.7"/>
<path d="M434,319.6 H441" stroke="#7f8f74" stroke-width="1.6"/>
<rect x="343" y="304.8" width="35.8" height="10.6" rx="4.4" fill="#f9cfa6" stroke="#cf8d55" stroke-width="0.9"/>
<rect x="348" y="306.6" width="25.8" height="7" fill="#f6bd8c" stroke="#e39a5e" stroke-width="0.6" stroke-dasharray="1.6 0.9"/>
<path d="M348,305 V315.2 M373.8,305 V315.2" stroke="#cf8d55" stroke-width="0.7"/>
<text class="t" x="338.8" y="324.2" style="font-size:6.4px">加热器</text>
<path class="ar" d="M388.4,316.6 h-7 m2.6,-1.5 l-2.8,1.5 l2.8,1.5 z"/>
<!-- tank -->
<path d="M394.6,313.4 V325 A20.9,6.2 0 0 0 436.4,325 V313.4 Z" fill="url(#gTank)"/>
<ellipse cx="415.5" cy="313.4" rx="20.9" ry="5.4" fill="url(#gTankTop)"/>
<path d="M395,312.6 Q405,306 415.5,303 Q426,306 436,312.6 A20.9,4.6 0 0 1 395,312.600 Z" fill="url(#gTankTop)"/>
<path d="M415.5,303 L414.6,317.6" stroke="#b9c4c6" stroke-width="0.6" opacity="0.8"/>
<text class="t" x="402.2" y="299.4" style="font-size:6.7px">燃料油槽</text>
<path class="ar" d="M452.5,319.6 h-7.4 m2.6,-1.5 l-2.8,1.5 l2.8,1.5 z"/>
<text class="t" x="454.6" y="322.4" style="font-size:6.4px">燃料油</text>
</g>
</g>
</svg>
</body>
</html>
